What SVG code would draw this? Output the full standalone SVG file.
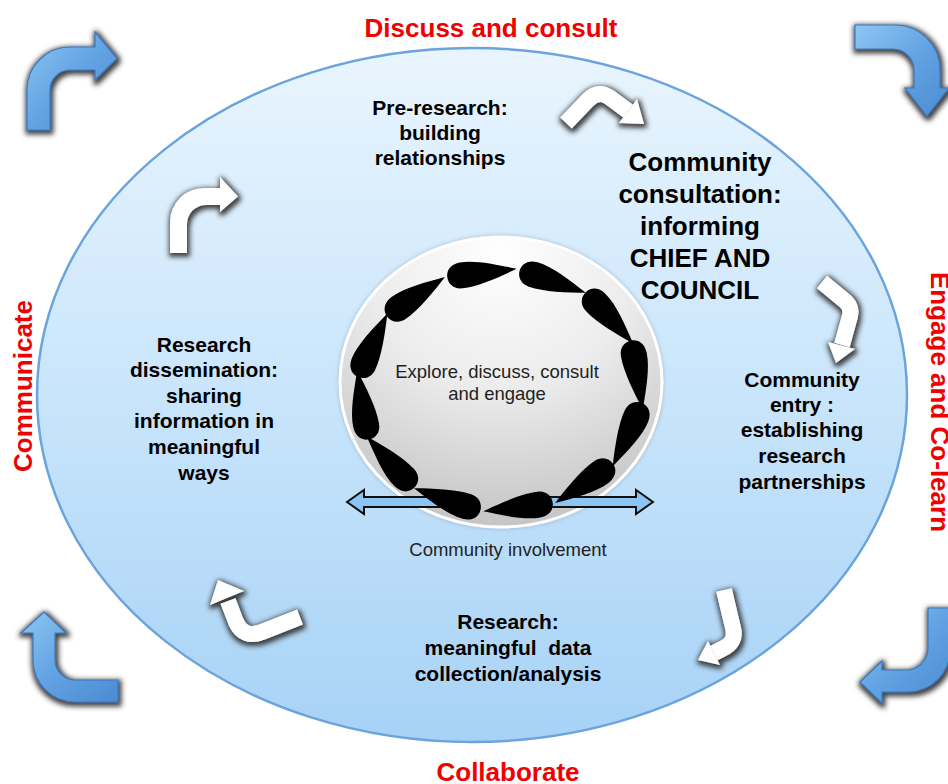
<svg xmlns="http://www.w3.org/2000/svg" width="948" height="784" viewBox="0 0 948 784">
<defs>
<linearGradient id="ellG" x1="0" y1="0" x2="0" y2="1">
<stop offset="0" stop-color="#e9f5fe"/>
<stop offset="0.5" stop-color="#c9e5fb"/>
<stop offset="1" stop-color="#a7d2f6"/>
</linearGradient>
<radialGradient id="circG" cx="0.5" cy="0.2" r="0.9" fx="0.5" fy="0.05">
<stop offset="0" stop-color="#ffffff"/>
<stop offset="0.45" stop-color="#ececec"/>
<stop offset="1" stop-color="#bcbcbc"/>
</radialGradient>
<linearGradient id="blueG" x1="0" y1="0" x2="1" y2="1">
<stop offset="0" stop-color="#8ec6f2"/>
<stop offset="0.5" stop-color="#62a3e3"/>
<stop offset="1" stop-color="#4b8bd1"/>
</linearGradient>
<filter id="shadow" x="-40%" y="-40%" width="180%" height="180%">
<feMorphology in="SourceAlpha" operator="dilate" radius="1.5" result="d"/>
<feGaussianBlur in="d" stdDeviation="2.5" result="b"/>
<feOffset in="b" dx="1" dy="1.5" result="o"/>
<feFlood flood-color="#2e2e2e" flood-opacity="0.9"/>
<feComposite in2="o" operator="in" result="s"/>
<feMerge><feMergeNode in="s"/><feMergeNode in="SourceGraphic"/></feMerge>
</filter>
<filter id="soft" x="-10%" y="-10%" width="120%" height="120%">
<feGaussianBlur in="SourceAlpha" stdDeviation="2" result="b"/>
<feFlood flood-color="#7a8a99" flood-opacity="0.5"/>
<feComposite in2="b" operator="in" result="s"/>
<feMerge><feMergeNode in="s"/><feMergeNode in="SourceGraphic"/></feMerge>
</filter>
<path id="drop" d="M36,0 C18,-6 -4,-14 -20,-13 C-31,-12 -34,-5 -34,0 C-34,7 -29,13 -20,13 C-4,13 18,6 36,0 Z"/>
<style>
.red{font-family:"Liberation Sans",Arial,sans-serif;font-weight:bold;font-size:26px;fill:#f00000;text-anchor:middle}
.bt{font-family:"Liberation Sans",Arial,sans-serif;font-weight:bold;font-size:21px;fill:#000;text-anchor:middle}
.big{font-family:"Liberation Sans",Arial,sans-serif;font-weight:bold;font-size:26px;fill:#000;text-anchor:middle}
.rt{font-family:"Liberation Sans",Arial,sans-serif;font-size:18.5px;fill:#222;text-anchor:middle}
.blue{fill:url(#blueG);stroke:#3d78bd;stroke-width:1.2;filter:url(#shadow)}
.wa{fill:none;stroke:#ffffff;stroke-width:16;stroke-linejoin:round}
.wh{fill:#ffffff}
.dbl{fill:#8cc4f4;stroke:#111;stroke-width:2;stroke-linejoin:miter}
</style>
</defs>
<rect width="948" height="784" fill="#ffffff"/>

<g id="outer-ellipse">
<ellipse cx="472" cy="395" rx="435" ry="347" fill="url(#ellG)" stroke="#6ba3dd" stroke-width="2.5"/>
</g>

<g id="label-discuss"><text class="red" x="491" y="37">Discuss and consult</text></g>
<g id="label-collaborate"><text class="red" x="508" y="781">Collaborate</text></g>
<g id="label-communicate"><text class="red" transform="translate(32,386) rotate(-90)">Communicate</text></g>
<g id="label-engage"><text class="red" transform="translate(931,402) rotate(90)">Engage and Co-learn</text></g>

<g id="connectors">
<g id="blue-arrows">
<path class="blue" d="M27,130 V90 A43,43 0 0 1 70,47 H95 V32 L117,58.5 L95,80 V70 H70 A20,20 0 0 0 50,90 V130 Z"/>
<path class="blue" d="M855,25 H895 A45,45 0 0 1 940,70 V88 H949 L927,116 L905,88 H914 V70 A21,21 0 0 0 893,49 H855 Z"/>
<path class="blue" d="M33,633 H21 L44,612 L66,633 H55 V660 A20,20 0 0 0 75,680 H118 V702 H75 A42,42 0 0 1 33,660 Z"/>
<path class="blue" d="M928,608 H950 V650 A42,42 0 0 1 908,692 H882 V703 L860,682 L882,661 V670 H906 A22,22 0 0 0 928,648 Z"/>
</g>
<g id="white-arrows" filter="url(#shadow)">
<path class="wh" d="M170,253 V222 A34,34 0 0 1 204,188 H220 V177 L238,196.5 L220,212 V205 H206 A19,19 0 0 0 187,224 V253 Z"/>
<g><path class="wa" d="M566,123 L588,100 Q598,90 609,97 L628,111"/><polygon class="wh" points="619,123 637,99 644,124"/></g>
<g><path class="wa" d="M822,282 L845,301 Q852,307 850,316 L842,345"/><polygon class="wh" points="828,342 855,349 836,363"/></g>
<g><path class="wa" d="M724,590 L733,628 Q737,642 722,649 L714,653"/><polygon class="wh" points="708,641 720,665 698,660"/></g>
<g><path class="wa" d="M300,617 L262,632 Q244,639 236,622 L228,601"/><polygon class="wh" points="210,605 244,591 218,580"/></g>
</g>
</g>

<g id="center-circle">
<ellipse cx="501" cy="382" rx="161" ry="145" fill="url(#circG)" stroke="#ffffff" stroke-width="3" filter="url(#soft)"/>
</g>

<g id="double-arrow">
<path class="dbl" d="M456,497 H364 V490 L347,502 L364,514 V507 H456 Z"/>
<path class="dbl" d="M543,497 H636 V490 L653,502 L636,514 V507 H543 Z"/>
</g>

<g id="teardrops" fill="#000">
<use href="#drop" transform="translate(481,273) rotate(-6.8)"/>
<use href="#drop" transform="translate(552,281) rotate(19.1)"/>
<use href="#drop" transform="translate(609,317) rotate(47.6)"/>
<use href="#drop" transform="translate(637,374) rotate(80.7)"/>
<use href="#drop" transform="translate(628,434) rotate(115.3)"/>
<use href="#drop" transform="translate(585,483) rotate(146.2)"/>
<use href="#drop" transform="translate(519,507) rotate(173.2)"/>
<use href="#drop" transform="translate(448,500) rotate(199.1)"/>
<use href="#drop" transform="translate(391,463) rotate(227.6)"/>
<use href="#drop" transform="translate(363,406) rotate(260.7)"/>
<use href="#drop" transform="translate(372,346) rotate(295.3)"/>
<use href="#drop" transform="translate(415,297) rotate(326.2)"/>
</g>

<g id="center-text">
<text class="rt" x="497" y="378">Explore, discuss, consult</text>
<text class="rt" x="497" y="400">and engage</text>
</g>
<g id="community-involvement"><text class="rt" x="508" y="556">Community involvement</text></g>

<g id="pre-research">
<text class="bt" x="440" y="115">Pre-research:</text>
<text class="bt" x="440" y="140">building</text>
<text class="bt" x="440" y="165">relationships</text>
</g>
<g id="community-consultation">
<text class="big" x="700" y="171">Community</text>
<text class="big" x="700" y="203">consultation:</text>
<text class="big" x="700" y="235">informing</text>
<text class="big" x="700" y="267">CHIEF AND</text>
<text class="big" x="700" y="299">COUNCIL</text>
</g>
<g id="community-entry">
<text class="bt" x="802" y="387">Community</text>
<text class="bt" x="802" y="412">entry :</text>
<text class="bt" x="802" y="437">establishing</text>
<text class="bt" x="802" y="463">research</text>
<text class="bt" x="802" y="489">partnerships</text>
</g>
<g id="research">
<text class="bt" x="508" y="629">Research:</text>
<text class="bt" x="508" y="655">meaningful&#160; data</text>
<text class="bt" x="508" y="681">collection/analysis</text>
</g>
<g id="dissemination">
<text class="bt" x="204" y="352">Research</text>
<text class="bt" x="204" y="377">dissemination:</text>
<text class="bt" x="204" y="403">sharing</text>
<text class="bt" x="204" y="428">information in</text>
<text class="bt" x="204" y="454">meaningful</text>
<text class="bt" x="204" y="480">ways</text>
</g>
</svg>
